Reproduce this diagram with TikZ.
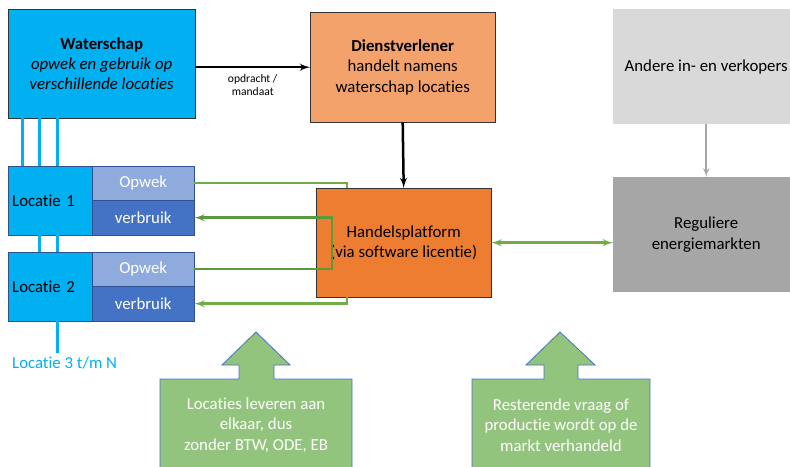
\documentclass[tikz,border=0pt]{standalone}
\usepackage{fontspec}
\setmainfont[Ligatures=NoCommon]{Carlito}
\usetikzlibrary{arrows,calc,positioning}
\definecolor{wsblue}{HTML}{00B0F0}
\definecolor{opwblue}{HTML}{8FAADC}
\definecolor{vbrblue}{HTML}{4472C4}
\definecolor{edgeblue}{HTML}{2F528F}
\definecolor{dvorange}{HTML}{F4A26B}
\definecolor{hporange}{HTML}{ED7D31}
\definecolor{lgreen}{HTML}{70AD47}
\definecolor{dgreen}{HTML}{5A9A3C}
\definecolor{callgreen}{HTML}{93C47D}
\definecolor{lgray}{HTML}{D9D9D9}
\definecolor{mgray}{HTML}{A6A6A6}
\begin{document}
\begin{tikzpicture}[x=1pt, y=-1pt, >=latex',
 font=\fontsize{16.8}{20.3}\selectfont,
 block/.style = {rectangle, anchor=north west, align=center, inner sep=2pt},
 lblock/.style = {block, fill=wsblue, draw=edgeblue, minimum width=85pt, minimum height=69pt,
                  text width=77pt, align=left, inner xsep=4pt},
 sblock/.style = {block, draw=edgeblue, text=white, minimum width=102pt},
 bline/.style = {draw=wsblue, line width=3pt},
 gline/.style = {draw=lgreen, line width=2.5pt},
 callout/.style = {fill=callgreen, draw=vbrblue, line width=0.8pt},
                        ]
    \clip (0,0) rectangle (790,466);

    \node [block, fill=wsblue, draw=black!80, minimum width=187pt, minimum height=109pt] (ws) at (8,9)
          {\textbf{Waterschap}\\\textit{opwek en gebruik op}\\\textit{verschillende locaties}};
    \node [block, fill=dvorange, draw=black!80, minimum width=185pt, minimum height=110pt] (dv) at (310,12)
          {\textbf{Dienstverlener}\\handelt namens\\waterschap locaties};
    \node [block, fill=hporange, draw=black!80, minimum width=175pt, minimum height=109pt] (hp) at (316,188)
          {Handelsplatform\\(via software licentie)};
    \node [block, fill=lgray, minimum width=186pt, minimum height=115pt] (andere) at (613,9)
          {Andere in- en verkopers};
    \node [block, fill=mgray, minimum width=186pt, minimum height=115pt] (regm) at (613,177)
          {Reguliere\\energiemarkten};

    \node [lblock]                             (loc1) at (8,166)   {Locatie 1};
    \node [sblock, fill=opwblue, minimum height=34pt] (opw1) at (92,166)  {Opwek};
    \node [sblock, fill=vbrblue, minimum height=35pt] (vbr1) at (92,200)  {verbruik};
    \node [lblock]                             (loc2) at (8,252)   {Locatie 2};
    \node [sblock, fill=opwblue, minimum height=34pt] (opw2) at (92,252)  {Opwek};
    \node [sblock, fill=vbrblue, minimum height=35pt] (vbr2) at (92,286)  {verbruik};
    \node [anchor=west, text=wsblue, inner sep=4pt]   (loc3) at (8,363)   {Locatie 3 t/m N};

    % blauwe verbindingen tussen de locaties
    \foreach \dx in {14,31,49}
        \draw[bline] ([xshift=\dx]ws.south west) -- ([xshift=\dx]loc1.north west);
    \foreach \dx in {31,49}
        \draw[bline] ([xshift=\dx]loc1.south west) -- ([xshift=\dx]loc2.north west);
    \draw[bline] ([xshift=49]loc2.south west) -- ([xshift=49]loc2.south west |- loc3.north);

    \draw[->, line width=2.5pt] (ws.east |- dv.west) -- node[below=3pt, align=center,
          font=\fontsize{11.6}{13}\selectfont] (opd) {opdracht /\\mandaat} (dv.west);
    \draw[->, line width=2.5pt] (dv.south) -- (hp.north);
    \draw[->, draw=mgray, line width=2pt] (andere.south) -- (regm.north);

    \path[gline] (opw1.east) -| ([xshift=31]hp.north west);
    \path[gline, ->] ([xshift=31]hp.south west) |- (vbr2.east);
    \coordinate (loop) at ([xshift=16]hp.west);
    \draw[->, draw=dgreen, line width=2.5pt] (opw2.east) -- (opw2.east -| loop) |- (vbr1.east);
    \path[gline, <->] (hp.east) -- (hp.east -| regm.west);

    % groene pijlen onderaan
    \draw[callout] (160,472) -- (160,379) -- (239,379) -- (239,365) -- (222,365) -- (256,332)
          -- (290,365) -- (274,365) -- (274,379) -- (352,379) -- (352,472) -- cycle;
    \node [align=center, text=white] (lev) at (256,425) {Locaties leveren aan\\elkaar, dus\\zonder BTW, ODE, EB};
    \draw[callout] (472,472) -- (472,379) -- (544,379) -- (544,365) -- (526,365) -- (560,332)
          -- (595,365) -- (578,365) -- (578,379) -- (650,379) -- (650,472) -- cycle;
    \node [align=center, text=white] (rest) at (561,425) {Resterende vraag of\\productie wordt op de\\markt verhandeld};
\end{tikzpicture}
\end{document}
